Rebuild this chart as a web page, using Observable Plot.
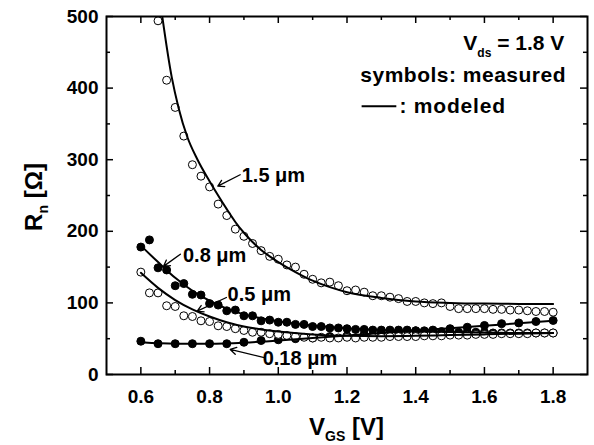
<!DOCTYPE html>
<html><head><meta charset="utf-8">
<script src="https://cdn.jsdelivr.net/npm/d3@7"></script>
<script src="https://cdn.jsdelivr.net/npm/@observablehq/plot@0.6"></script>
<style>
body{margin:0;background:#fff;}
svg text{font-family:"Liberation Sans",Arial,sans-serif;font-weight:bold;}
</style></head><body><div id="chart"></div>
<script>
// ---- data ----
const vgsFine = [0.6,0.625,0.65,0.675,0.7,0.725,0.75,0.775,0.8,0.825,0.85,0.875,0.9,0.925,0.95,0.975,1.0,1.025,1.05,1.075,1.1,1.125,1.15,1.175,1.2,1.225,1.25,1.275,1.3,1.325,1.35,1.375,1.4,1.425,1.45,1.475,1.5,1.525,1.55,1.575,1.6,1.625,1.65,1.675,1.7,1.725,1.75,1.775,1.8];
const vgs15 = [0.65,0.675,0.7,0.725,0.75,0.775,0.8,0.825,0.85,0.875,0.9,0.925,0.95,0.975,1.0,1.025,1.05,1.075,1.1,1.125,1.15,1.175,1.2,1.225,1.25,1.275,1.3,1.325,1.35,1.375,1.4,1.425,1.45,1.475,1.5,1.525,1.55,1.575,1.6,1.625,1.65,1.675,1.7,1.725,1.75,1.775,1.8];
const vgsCoarse = [0.6,0.65,0.7,0.75,0.8,0.85,0.9,0.95,1.0,1.05,1.1,1.15,1.2,1.25,1.3,1.35,1.4,1.45,1.5,1.55,1.6,1.65,1.7,1.75,1.8];

const meas15 = [494,411,373,333,293,277,262,238,222,203,193,183,173,165,161,153,150,140,133,128,129,124,117,118,115,110,110,108,106,102,102,100,99,100,95,92,92,92,92,91,91,90,90,89,88,88,87];
const meas08 = [178,188,149,146,124,127,112,111,99,97,89,90,82,82,75,76,73,73,70,70,67,67,65,65,64,63,63,62,62,62,62,62,61,61,60,60,60,59,59,59,59,58,58,58,58,58,58,58,58];
const meas05 = [143,114,114,96,95,82,81,75,74,68,67,64,61.5,59,59,57,56,54.5,53,52,51,52,51,51,52,51,52,52,52,53,53,53,53,54,54,54,55,55,55,56,56,56,57,57,57,57,58,58,58];
const meas018 = [46.5,43,43,43,43,43,45,47.5,48.5,50,51,53,54,56,58,59,61,62,64,66,68.5,71,72,74,75.5];

const modV15 = [0.655,0.69,0.71,0.735,0.765,0.8,0.825,0.85,0.875,0.9,0.925,0.95,0.975,1.0,1.05,1.1,1.15,1.2,1.3,1.4,1.5,1.6,1.7,1.8];
const mod15  = [525,415,372,332,300,270,250,231,213,198,185,174,165,157,143,131,122,115,107,102,100,99,98.6,98.5];
const modV08 = [0.6,0.65,0.7,0.75,0.8,0.85,0.9,0.95,1.0,1.05,1.1,1.2,1.3,1.4,1.5,1.6,1.7,1.8];
const mod08  = [180,157,135,117,103,92,84,78.5,74.5,71,68.5,64.5,62,60.5,59.5,58.5,58,58];
const modV05 = [0.6,0.65,0.7,0.75,0.8,0.85,0.9,0.95,1.0,1.1,1.2,1.3,1.4,1.5,1.6,1.7,1.8];
const mod05  = [142,121,104,91,81,73,67,63,60,56,54,53.5,54,55,56,57,58];
const modV018 = [0.6,0.7,0.8,0.9,1.0,1.1,1.2,1.3,1.4,1.5,1.6,1.7,1.8];
const mod018  = [45,43,43,44.5,47.5,51,54.5,58,61.5,64.5,68,71.5,75];

const xMajor = [0.6,0.8,1.0,1.2,1.4,1.6,1.8];
const xMinor = [0.7,0.9,1.1,1.3,1.5,1.7];
const yMajor = [0,100,200,300,400,500];
const yMinor = [50,150,250,350,450];

// annotations (data coordinates)
const annLabel = ["1.5 μm","0.8 μm","0.5 μm","0.18 μm"];
const annV = [0.895,0.724,0.854,0.956];
const annR = [268,156,102,12.6];
const arrV1 = [0.889,0.715,0.849,0.959];
const arrR1 = [279,168,107.5,23.7];
const arrV2 = [0.824,0.666,0.764,0.860];
const arrR2 = [263,151,88.4,35];

// ---- build ----
const zip = (xs, ys) => xs.map((x, i) => ({x, y: ys[i]}));
const W = 594, H = 445, mL = 106, mR = 7, mT = 16, mB = 71;
const iw = W - mL - mR, ih = H - mT - mB;
const arrows = arrV1.map((v, i) => ({x1: v, y1: arrR1[i], x2: arrV2[i], y2: arrR2[i]}));

const chart = Plot.plot({
  width: W, height: H,
  marginLeft: mL, marginRight: mR, marginTop: mT, marginBottom: mB,
  style: {fontFamily: '"Liberation Sans", Arial, sans-serif', fontWeight: "bold", fontSize: "18px", background: "white", color: "black", overflow: "visible"},
  x: {domain: [0.5, 1.9]},
  y: {domain: [0, 500]},
  marks: [
    Plot.axisX(xMajor, {tickSize: 0, tickPadding: 15, tickFormat: d => d.toFixed(1), label: null, fontSize: 19}),
    Plot.axisY(yMajor, {tickSize: 0, tickPadding: 8, label: null, fontSize: 19}),
    Plot.tickX(xMajor, {x: d => d, insetTop: ih - 7, strokeWidth: 1.5}),
    Plot.tickX(xMajor, {x: d => d, insetBottom: ih - 7, strokeWidth: 1.5}),
    Plot.tickX(xMinor, {x: d => d, insetTop: ih - 4, strokeWidth: 1.5}),
    Plot.tickX(xMinor, {x: d => d, insetBottom: ih - 4, strokeWidth: 1.5}),
    Plot.tickY(yMajor, {y: d => d, insetRight: iw - 7, strokeWidth: 1.5}),
    Plot.tickY(yMajor, {y: d => d, insetLeft: iw - 7, strokeWidth: 1.5}),
    Plot.tickY(yMinor, {y: d => d, insetRight: iw - 4, strokeWidth: 1.5}),
    Plot.tickY(yMinor, {y: d => d, insetLeft: iw - 4, strokeWidth: 1.5}),
    Plot.dot(zip(vgsFine, meas08), {x: "x", y: "y", r: 4, fill: "black", stroke: "black", strokeWidth: 1}),
    Plot.dot(zip(vgsCoarse, meas018), {x: "x", y: "y", r: 4, fill: "black", stroke: "black", strokeWidth: 1}),
    Plot.dot(zip(vgsFine, meas05), {x: "x", y: "y", r: 4, fill: "white", stroke: "black", strokeWidth: 1}),
    Plot.dot(zip(vgs15, meas15), {x: "x", y: "y", r: 4, fill: "white", stroke: "black", strokeWidth: 1}),
    Plot.line(zip(modV15, mod15), {x: "x", y: "y", curve: "monotone-x", stroke: "black", strokeWidth: 2, clip: true}),
    Plot.line(zip(modV08, mod08), {x: "x", y: "y", curve: "monotone-x", stroke: "black", strokeWidth: 2, clip: true}),
    Plot.line(zip(modV05, mod05), {x: "x", y: "y", curve: "monotone-x", stroke: "black", strokeWidth: 2, clip: true}),
    Plot.line(zip(modV018, mod018), {x: "x", y: "y", curve: "monotone-x", stroke: "black", strokeWidth: 2, clip: true}),
    Plot.arrow(arrows, {x1: "x1", y1: "y1", x2: "x2", y2: "y2", stroke: "black", strokeWidth: 1.3, headLength: 8}),
    Plot.frame({stroke: "black", strokeWidth: 2})
  ]
});
document.getElementById("chart").appendChild(chart);

// ---- text annotations ----
const sx = chart.scale("x"), sy = chart.scale("y");
const svg = d3.select(chart);
const g = svg.append("g").attr("font-family", '"Liberation Sans", Arial, sans-serif').attr("font-weight", "bold").attr("fill", "black").attr("text-anchor", "start");
annLabel.forEach((t, i) => {
  g.append("text").attr("x", sx.apply(annV[i])).attr("y", sy.apply(annR[i])).attr("font-size", 20).attr("text-anchor", "start").text(t);
});

// legend block
const t1 = g.append("text").attr("x", sx.apply(1.834)).attr("y", sy.apply(452.5)).attr("font-size", 21).attr("text-anchor", "end");
t1.append("tspan").text("V");
t1.append("tspan").attr("font-size", 12).attr("dy", 7).text("ds");
t1.append("tspan").attr("dy", -7).text(" = 1.8 V");
g.append("text").attr("x", sx.apply(1.839)).attr("y", sy.apply(408)).attr("font-size", 21).attr("letter-spacing", 0.5).attr("text-anchor", "end").text("symbols: measured");
g.append("line").attr("x1", sx.apply(1.244)).attr("x2", sx.apply(1.345)).attr("y1", sy.apply(374)).attr("y2", sy.apply(374)).attr("stroke", "black").attr("stroke-width", 2);
g.append("text").attr("x", sx.apply(1.354)).attr("y", sy.apply(364.5)).attr("font-size", 21).attr("letter-spacing", 0.8).attr("text-anchor", "start").text(": modeled");

// axis titles
const xl = g.append("text").attr("x", mL + iw / 2).attr("y", 435).attr("font-size", 24).attr("text-anchor", "middle");
xl.append("tspan").text("V");
xl.append("tspan").attr("font-size", 14).attr("dy", 6).text("GS");
xl.append("tspan").attr("dy", -6).text(" [V]");
const yl = g.append("text").attr("transform", `translate(42,${mT + ih / 2 + 2}) rotate(-90)`).attr("font-size", 24).attr("text-anchor", "middle");
yl.append("tspan").text("R");
yl.append("tspan").attr("font-size", 14).attr("dy", 6).text("n");
yl.append("tspan").attr("dy", -6).text(" [Ω]");
</script></body></html>
